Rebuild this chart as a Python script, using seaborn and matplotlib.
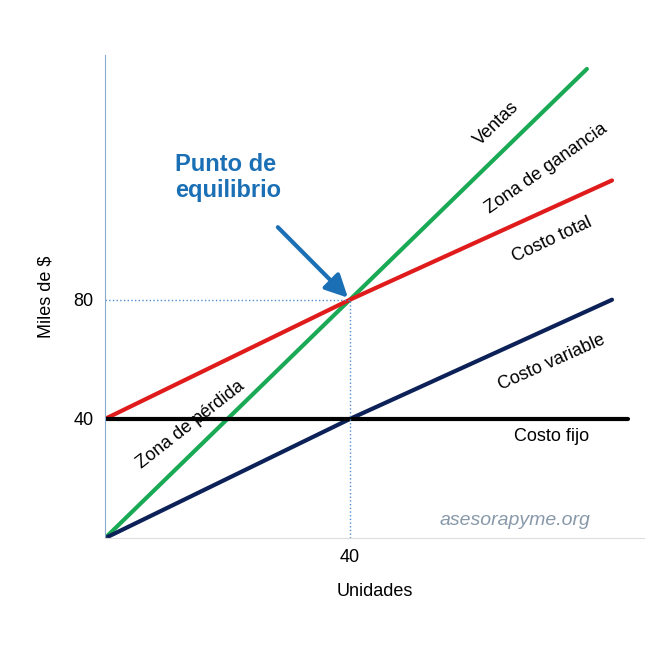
import matplotlib
matplotlib.use("Agg")
import matplotlib.pyplot as plt
import seaborn as sns

units = [0, 40, 78.7]
ventas = [0, 80, 157.4]
x_cost = [0, 40, 82.8]
costo_total = [40, 80, 120]
costo_variable = [0, 40, 80]
x_fijo = [0, 85.4]
costo_fijo = [40, 40]
equilibrio = (40, 80)

sns.set_style("white")
plt.rcParams["font.family"] = ["Liberation Sans", "DejaVu Sans"]

fig = plt.figure(figsize=(6.5, 6.5), dpi=100)
ax = fig.add_axes([0.1615, 0.172, 0.829, 0.743])

sns.lineplot(x=units, y=ventas, color="#1aaa55", lw=3, ax=ax)
sns.lineplot(x=x_cost, y=costo_total, color="#e01b1b", lw=3, ax=ax)
sns.lineplot(x=x_cost, y=costo_variable, color="#0c2158", lw=3, ax=ax)
sns.lineplot(x=x_fijo, y=costo_fijo, color="black", lw=3, ax=ax)

ax.plot([40, 40], [0, 80], ls=":", color="#4f8fd0", lw=1)
ax.plot([0, 40], [80, 80], ls=":", color="#4f8fd0", lw=1)

ax.set_xlim(0, 88)
ax.set_ylim(0, 162)
ax.set_xticks([40])
ax.set_yticks([40, 80])
ax.tick_params(labelsize=13, length=0, pad=8, labelcolor="black")
for s in ["top", "right"]:
    ax.spines[s].set_visible(False)
ax.spines["left"].set_color("#8aaacc")
ax.spines["bottom"].set_color("#dddddd")
ax.set_xlabel("Unidades", fontsize=13, labelpad=12, color="black")
ax.set_ylabel("Miles de $", fontsize=13, labelpad=14, color="black")

kw = dict(fontsize=13, ha="center", va="center", color="black")
ax.text(64, 139, "Ventas", rotation=44, **kw)
ax.text(72, 124, "Zona de ganancia", rotation=35, **kw)
ax.text(73, 100, "Costo total", rotation=25, **kw)
ax.text(73, 59, "Costo variable", rotation=24, **kw)
ax.text(73, 34, "Costo fijo", rotation=0, **kw)
ax.text(14, 38, "Zona de pérdida", rotation=38, **kw)

ax.annotate("Punto de\nequilibrio", xy=equilibrio, xytext=(11.5, 121),
            fontsize=17, fontweight="bold", color="#1a6fb5", ha="left", va="center",
            arrowprops=dict(arrowstyle="-|>,head_width=0.4,head_length=0.8",
                            color="#1a6fb5", lw=3, shrinkA=22, shrinkB=2))
ax.text(67, 6, "asesorapyme.org", fontsize=14, style="italic", color="#8899aa",
        ha="center", va="center")

fig.savefig("out.png", dpi=100)
